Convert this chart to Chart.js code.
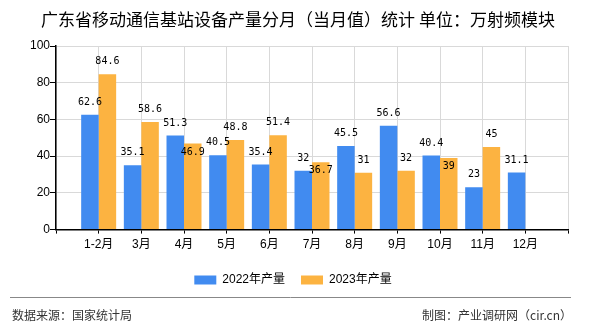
<!DOCTYPE html>
<html>
<head>
<meta charset="utf-8">
<script src="https://cdn.jsdelivr.net/npm/chart.js@4.4.0/dist/chart.umd.min.js"></script>
<style>
  html, body { margin: 0; padding: 0; background: #fff; }
  #wrap { width: 590px; height: 330px; position: relative; }
</style>
</head>
<body>
<div id="wrap"><canvas id="chanliang"></canvas></div>
<script>
const months = ["1-2月", "3月", "4月", "5月", "6月", "7月", "8月", "9月", "10月", "11月", "12月"];
const output2022 = [62.6, 35.1, 51.3, 40.5, 35.4, 32, 45.5, 56.6, 40.4, 23, 31.1];
const output2023 = [84.6, 58.6, 46.9, 48.8, 51.4, 36.7, 31, 32, 39, 45, null];
const yTicks = [0, 20, 40, 60, 80, 100];

// the original axis has an empty slot before 1-2月 and after 12月
const labels = [""].concat(months, [""]);
function pad(arr) {
  return [null].concat(arr, [null]);
}

const mixFont = '"Liberation Sans", "Noto Sans CJK SC"';

// value labels above the bars; the 2023 one goes inside the bar when it would hit the 2022 one
const valueLabels = {
  id: "valueLabels",
  afterDatasetsDraw(chart) {
    const ctx = chart.ctx;
    const m0 = chart.getDatasetMeta(0);
    const m1 = chart.getDatasetMeta(1);
    const d0 = chart.data.datasets[0].data;
    const d1 = chart.data.datasets[1].data;
    ctx.save();
    ctx.font = '10px "DejaVu Sans Mono"';
    ctx.fillStyle = "#000";
    ctx.textAlign = "center";
    ctx.textBaseline = "middle";
    for (let i = 0; i < d0.length; i++) {
      let y0 = null;
      if (d0[i] != null) {
        const b = m0.data[i];
        y0 = b.y - 12.5;
        ctx.fillText(String(d0[i]), b.x, y0);
      }
      if (d1[i] != null) {
        const b = m1.data[i];
        let y1 = b.y - 12.5;
        if (y0 !== null && Math.abs(y1 - y0) < 11) y1 = b.y + 8.5;
        ctx.fillText(String(d1[i]), b.x, y1);
      }
    }
    ctx.restore();
  }
};

// title and source line
const frame = {
  id: "frame",
  afterDraw(chart) {
    const ctx = chart.ctx;
    ctx.save();
    ctx.fillStyle = "#000";
    ctx.textAlign = "center";
    ctx.textBaseline = "middle";
    ctx.font = '17px "Noto Sans CJK SC"';
    ctx.fillText("广东省移动通信基站设备产量分月（当月值）统计 单位：万射频模块", 298, 20);

    ctx.strokeStyle = "#888";
    ctx.lineWidth = 1;
    ctx.beginPath();
    ctx.moveTo(10, 297.5);
    ctx.lineTo(571, 297.5);
    ctx.stroke();

    ctx.fillStyle = "#333";
    ctx.font = '12px "Noto Sans CJK SC"';
    ctx.textAlign = "left";
    ctx.fillText("数据来源：国家统计局", 12, 315);
    ctx.textAlign = "right";
    ctx.fillText("制图：产业调研网（cir.cn）", 572, 315);
    ctx.restore();
  }
};

const data = {
  labels: labels,
  datasets: [
    {
      label: "2022年产量",
      data: pad(output2022),
      backgroundColor: "#418bf0",
      categoryPercentage: 0.82,
      barPercentage: 1
    },
    {
      label: "2023年产量",
      data: pad(output2023),
      backgroundColor: "#fcb341",
      categoryPercentage: 0.82,
      barPercentage: 1
    }
  ]
};

const config = {
  type: "bar",
  data: data,
  options: {
    responsive: true,
    maintainAspectRatio: false,
    animation: false,
    layout: {
      padding: { left: 18, right: 22, top: 46, bottom: 34 }
    },
    scales: {
      x: {
        offset: false,
        afterFit(scale) {
          scale.height += 2;
        },
        grid: {
          offset: false,
          color: "#d9d9d9",
          tickColor: "#000",
          tickLength: 4
        },
        border: { color: "#000", width: 1.5 },
        ticks: {
          autoSkip: false,
          maxRotation: 0,
          color: "#000",
          padding: 4,
          font: { family: mixFont, size: 12 }
        }
      },
      y: {
        min: 0,
        max: 100,
        afterBuildTicks(scale) {
          scale.ticks = yTicks.map(v => ({ value: v }));
        },
        afterFit(scale) {
          scale.width = 38;
        },
        grid: {
          color: "#d9d9d9",
          tickColor: "#000",
          tickLength: 6
        },
        border: { color: "#000", width: 1.5 },
        ticks: {
          color: "#000",
          padding: 0,
          font: { family: "Liberation Sans", size: 12 }
        }
      }
    },
    plugins: {
      title: { display: false },
      tooltip: { enabled: false },
      legend: {
        position: "bottom",
        labels: {
          boxWidth: 22,
          boxHeight: 9,
          padding: 16,
          color: "#000",
          font: { family: mixFont, size: 12 }
        }
      }
    }
  },
  plugins: [valueLabels, frame]
};

let myChart = new Chart(document.getElementById("chanliang"), config);
</script>
</body>
</html>
